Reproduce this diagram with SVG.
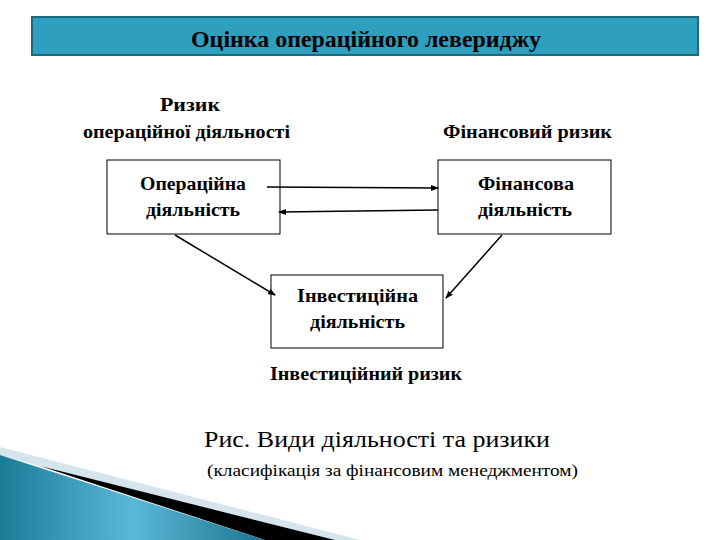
<svg xmlns="http://www.w3.org/2000/svg" width="720" height="540" viewBox="0 0 720 540">
<defs>
<marker id="ah" markerWidth="8" markerHeight="8" refX="7" refY="4" orient="auto" markerUnits="userSpaceOnUse">
<path d="M0,1 L8,4 L0,7 Z" fill="#000"/>
</marker>
<linearGradient id="blue" x1="0" y1="0" x2="1" y2="0">
<stop offset="0" stop-color="#1b7c98"/>
<stop offset="0.5" stop-color="#5ab8d6"/>
<stop offset="1" stop-color="#1d7590"/>
</linearGradient>
</defs>
<rect width="720" height="540" fill="#fff"/>
<g id="decor">
<polygon points="0,447 360,540 335,540 40,466 0,455" fill="#d5e5ee"/>
<polygon points="40,466 335,540 265,540" fill="#000"/>
<polygon points="0,455 265,540 0,540" fill="url(#blue)"/>
</g>
<g id="title">
<rect x="32" y="17" width="666" height="38" fill="#2e9fbf" stroke="#1d6a80" stroke-width="2"/>
<text x="191" y="47" font-family="'Liberation Serif', serif" font-size="24" font-weight="bold" textLength="350" lengthAdjust="spacingAndGlyphs">Оцінка операційного левериджу</text>
</g>
<g id="labels">
<text x="160" y="111" font-family="'Liberation Serif', serif" font-size="18" font-weight="bold" textLength="60" lengthAdjust="spacingAndGlyphs">Ризик</text>
<text x="83" y="138" font-family="'Liberation Serif', serif" font-size="18" font-weight="bold" textLength="207" lengthAdjust="spacingAndGlyphs">операційної діяльності</text>
<text x="443" y="138" font-family="'Liberation Serif', serif" font-size="18" font-weight="bold" textLength="169" lengthAdjust="spacingAndGlyphs">Фінансовий ризик</text>
<text x="270" y="380" font-family="'Liberation Serif', serif" font-size="18" font-weight="bold" textLength="192" lengthAdjust="spacingAndGlyphs">Інвестиційний ризик</text>
</g>
<g id="node-operating">
<rect x="107" y="160" width="173" height="74" fill="#fff" stroke="#000"/>
<text x="140" y="190" font-family="'Liberation Serif', serif" font-size="18" font-weight="bold" textLength="106" lengthAdjust="spacingAndGlyphs">Операційна</text>
<text x="146" y="216" font-family="'Liberation Serif', serif" font-size="18" font-weight="bold" textLength="94" lengthAdjust="spacingAndGlyphs">діяльність</text>
</g>
<g id="node-financial">
<rect x="438" y="160" width="173" height="74" fill="#fff" stroke="#000"/>
<text x="478" y="190" font-family="'Liberation Serif', serif" font-size="18" font-weight="bold" textLength="96" lengthAdjust="spacingAndGlyphs">Фінансова</text>
<text x="478" y="216" font-family="'Liberation Serif', serif" font-size="18" font-weight="bold" textLength="94" lengthAdjust="spacingAndGlyphs">діяльність</text>
</g>
<g id="node-investment">
<rect x="271" y="275" width="172" height="73" fill="#fff" stroke="#000"/>
<text x="297" y="302" font-family="'Liberation Serif', serif" font-size="18" font-weight="bold" textLength="121" lengthAdjust="spacingAndGlyphs">Інвестиційна</text>
<text x="310" y="328" font-family="'Liberation Serif', serif" font-size="18" font-weight="bold" textLength="95" lengthAdjust="spacingAndGlyphs">діяльність</text>
</g>
<g id="caption">
<text x="204" y="447" font-family="'Liberation Serif', serif" font-size="23" textLength="346" lengthAdjust="spacingAndGlyphs">Рис.  Види діяльності та ризики</text>
<text x="207" y="476" font-family="'Liberation Serif', serif" font-size="16" textLength="371" lengthAdjust="spacingAndGlyphs">(класифікація за фінансовим менеджментом)</text>
</g>
<g id="connectors" stroke="#000" stroke-width="1.5" fill="none" marker-end="url(#ah)">
<line x1="267" y1="187" x2="438" y2="188"/>
<line x1="438" y1="210" x2="279" y2="212"/>
<line x1="175" y1="235" x2="275" y2="295"/>
<line x1="502" y1="235" x2="446" y2="298"/>
</g>
</svg>
